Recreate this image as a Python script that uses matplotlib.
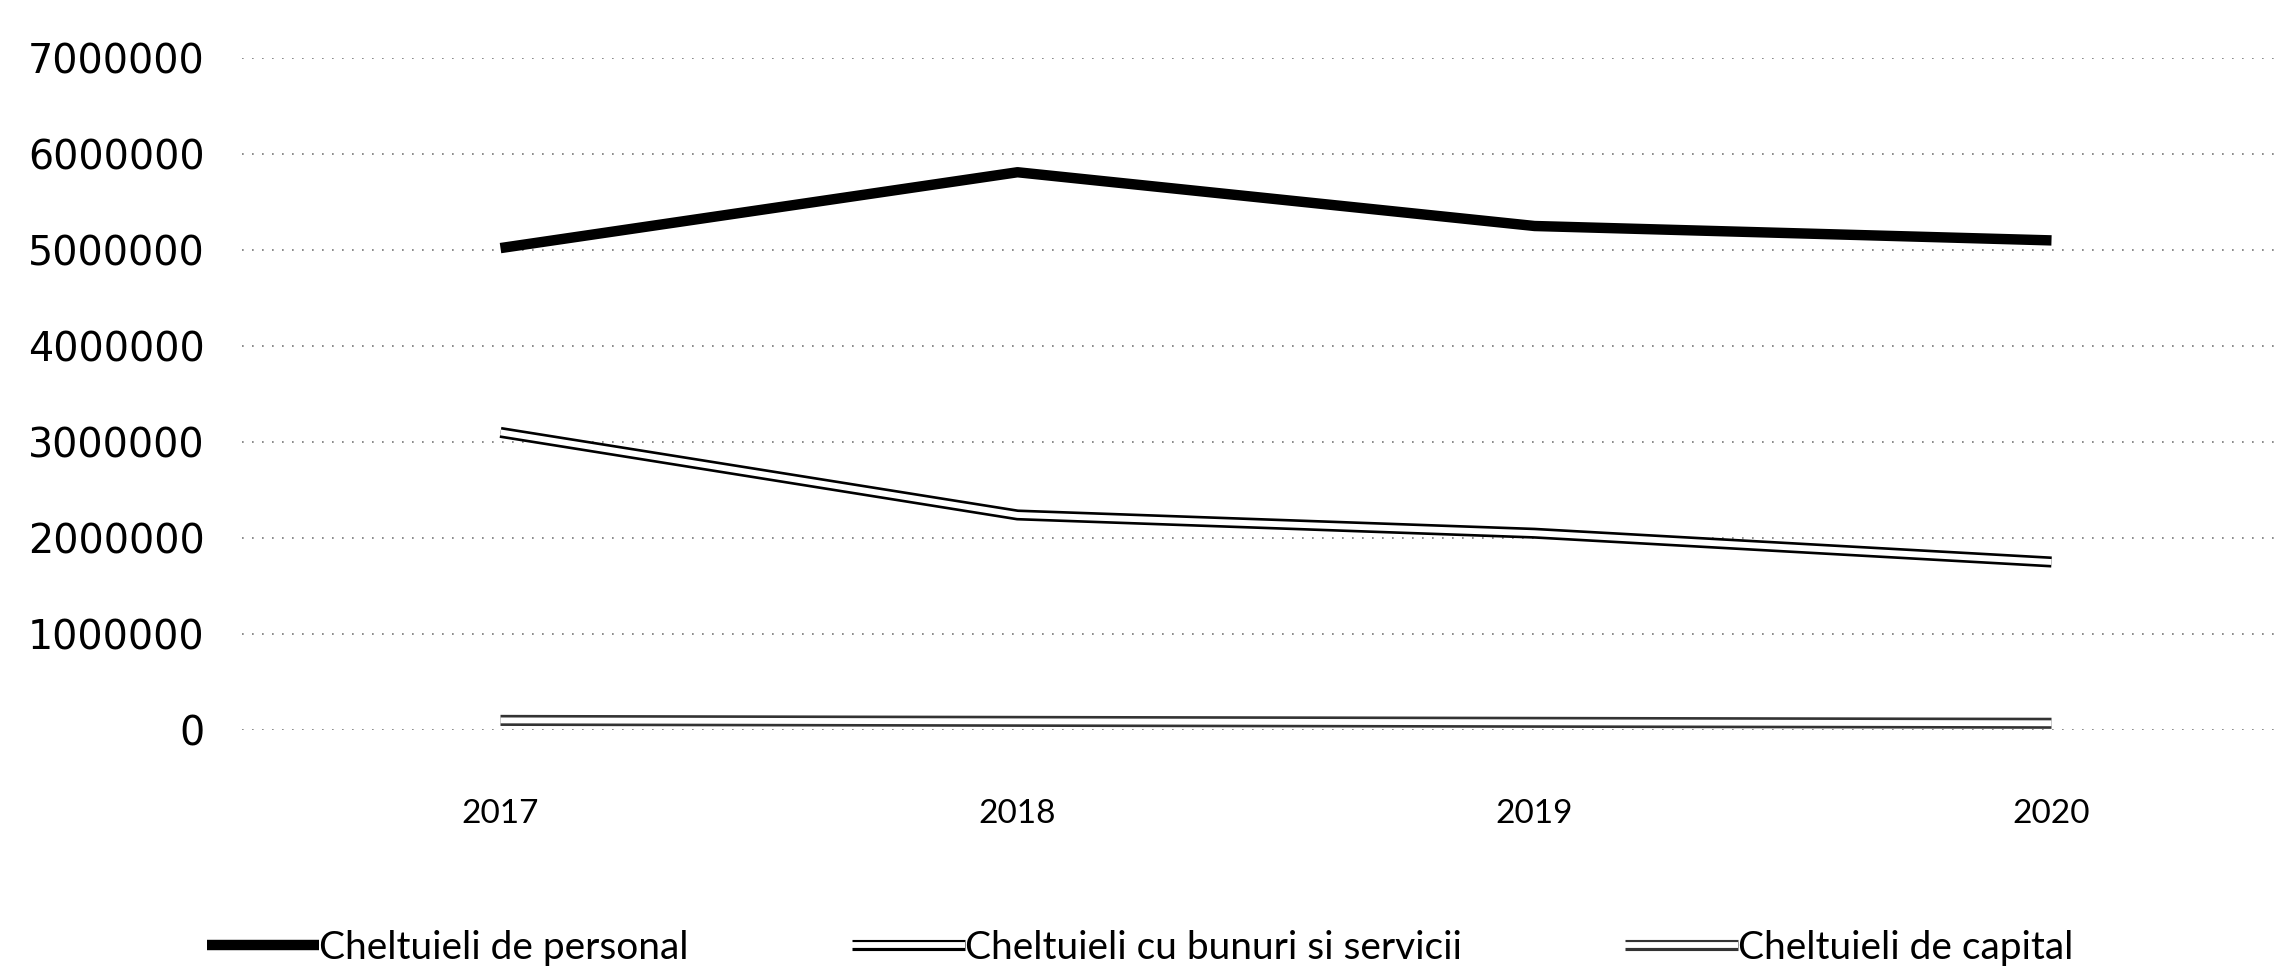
import matplotlib
matplotlib.use("Agg")
import matplotlib.pyplot as plt
from matplotlib.legend_handler import HandlerTuple

years = ["2017", "2018", "2019", "2020"]
personal = [5020000, 5810000, 5250000, 5100000]
bunuri = [3100000, 2240000, 2050000, 1750000]
capital = [100000, 90000, 80000, 70000]
labels = ["Cheltuieli de personal", "Cheltuieli cu bunuri si servicii", "Cheltuieli de capital"]
yticks = [0, 1000000, 2000000, 3000000, 4000000, 5000000, 6000000, 7000000]

W, H = 2281, 968
fig = plt.figure(figsize=(W / 100, H / 100), dpi=100)
ax = fig.add_axes([242 / W, (H - 730) / H, 1 - 242 / W, (730 - 58) / H])

x = list(range(len(years)))
h1, = ax.plot(x, personal, color="black", lw=7.5, solid_capstyle="butt", clip_on=False, zorder=5)
b_out, = ax.plot(x, bunuri, color="black", lw=8, solid_capstyle="butt", clip_on=False, zorder=4)
b_in, = ax.plot(x, bunuri, color="white", lw=4.2, solid_capstyle="butt", clip_on=False, zorder=4.1)
c_out, = ax.plot(x, capital, color="#333333", lw=8, solid_capstyle="butt", clip_on=False, zorder=3)
c_in, = ax.plot(x, capital, color="white", lw=4.2, solid_capstyle="butt", clip_on=False, zorder=3.1)

ax.set_xlim(-0.5, -0.5 + (W - 242) / 517)
ax.set_ylim(0, 7000000)
ax.set_yticks(yticks)
ax.set_yticklabels([str(v) for v in yticks], fontsize=28.5, family="DejaVu Sans")
ax.set_xticks(x)
ax.set_xticklabels(years, fontsize=24, family="Lato")
ax.tick_params(axis="y", length=0, pad=27)
ax.tick_params(axis="x", length=0, pad=50)
for s in ax.spines.values():
    s.set_visible(False)
ax.yaxis.grid(True, color="#777777", linestyle=(0, (1, 5)), lw=1.2)
ax.set_axisbelow(True)

leg = fig.legend([h1, (b_out, b_in), (c_out, c_in)], labels,
                 handler_map={tuple: HandlerTuple(ndivide=1)},
                 loc="center", bbox_to_anchor=(1140 / W, (H - 948) / H),
                 ncol=3, frameon=False, handlelength=2.9, handletextpad=0.0,
                 columnspacing=4.2, prop={"family": "Lato", "size": 28})

fig.savefig("out.png", dpi=100, facecolor="white")
